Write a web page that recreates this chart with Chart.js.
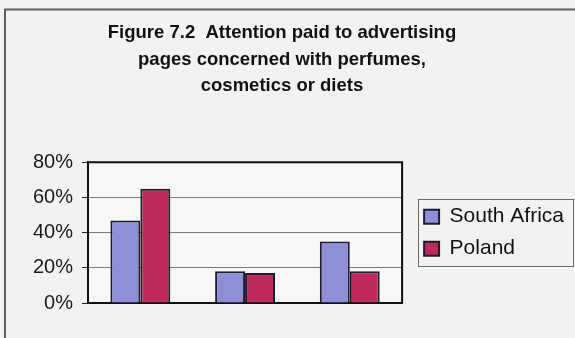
<!DOCTYPE html>
<html>
<head>
<meta charset="utf-8">
<script src="https://cdn.jsdelivr.net/npm/chart.js@4"></script>
<style>
  html, body { margin: 0; padding: 0; background: #f2f2f0; }
  canvas { display: block; }
</style>
</head>
<body>
<canvas id="attentionChart" width="575" height="338"></canvas>
<script>
// three unlabelled groups, two countries
const categories = ['', '', ''];
const southAfrica = [47, 18, 35];
const poland = [65, 17, 18];
const yTicks = [0, 20, 40, 60, 80];
const titleLines = [
  'Figure 7.2  Attention paid to advertising',
  'pages concerned with perfumes,',
  'cosmetics or diets'
];

const FONT = "'Liberation Sans', Arial, sans-serif";

// page background, outer frame, plot border and legend box
const framePlugin = {
  id: 'framePlugin',
  beforeDraw(chart) {
    const { ctx, chartArea: a } = chart;
    ctx.save();
    ctx.fillStyle = '#f2f2f0';
    ctx.fillRect(0, 0, chart.width, chart.height);
    ctx.strokeStyle = '#5c5c5c';
    ctx.lineWidth = 2;
    ctx.strokeRect(5, 9.5, chart.width + 20, chart.height + 20);
    ctx.fillStyle = '#f7f7f5';
    ctx.fillRect(a.left, a.top, a.right - a.left, a.bottom - a.top);
    ctx.restore();
  },
  afterDraw(chart) {
    const { ctx, chartArea: a, legend } = chart;
    ctx.save();
    ctx.strokeStyle = '#111';
    ctx.lineWidth = 2;
    ctx.beginPath();
    ctx.moveTo(a.left, a.top);
    ctx.lineTo(a.right, a.top);
    ctx.lineTo(a.right, a.bottom);
    ctx.stroke();

    const hb = legend.legendHitBoxes;
    if (hb && hb.length) {
      const last = hb[hb.length - 1];
      const left = hb[0].left - 6;
      const top = hb[0].top - 7;
      const right = Math.min(chart.width - 1.5, Math.max(...hb.map(h => h.left + h.width)) + 9);
      const bottom = last.top + last.height + 7;
      ctx.strokeStyle = '#6a6a6a';
      ctx.lineWidth = 1;
      ctx.strokeRect(Math.round(left) + 0.5, Math.round(top) + 0.5,
        Math.round(right - left), Math.round(bottom - top));
    }
    ctx.restore();
  }
};

const ctx = document.getElementById('attentionChart').getContext('2d');
new Chart(ctx, {
  type: 'bar',
  data: {
    labels: categories,
    datasets: [{
      label: 'South Africa',
      data: southAfrica,
      yAxisID: 'y',
      backgroundColor: '#8e8fd8',
      borderColor: '#1c1c2c',
      borderWidth: 2
    }, {
      label: 'Poland',
      data: poland,
      yAxisID: 'y',
      backgroundColor: '#bf2a5c',
      borderColor: '#1c1c2c',
      borderWidth: 2
    }]
  },
  options: {
    responsive: false,
    animation: false,
    devicePixelRatio: 1,
    layout: { padding: { left: -10, right: 1, top: 0, bottom: 0 } },
    datasets: {
      bar: { categoryPercentage: 0.572, barPercentage: 1 }
    },
    scales: {
      x: {
        ticks: { display: false },
        grid: { display: false },
        border: { display: true, color: '#111', width: 2 },
        afterFit(scale) { scale.height = 35; }
      },
      y: {
        min: 0,
        max: 80,
        afterBuildTicks(scale) { scale.ticks = yTicks.map(v => ({ value: v })); },
        ticks: {
          padding: 9,
          color: '#1a1a1a',
          font: { family: FONT, size: 20 },
          callback: v => v + '%'
        },
        grid: { color: '#7a7a7a', lineWidth: 1, tickColor: '#222', tickLength: 6 },
        border: { display: true, color: '#111', width: 2 },
        afterFit(scale) { scale.width = 98; }
      },
      // empty strip between the plot and the legend
      gap: {
        type: 'linear',
        position: 'right',
        ticks: { display: false },
        grid: { display: false },
        border: { display: false },
        afterFit(scale) { scale.width = 11; }
      }
    },
    plugins: {
      title: {
        display: true,
        text: titleLines,
        color: '#111',
        font: { family: FONT, size: 18.5, weight: 'bold', lineHeight: 1.43 },
        padding: { top: 20, bottom: 63 }
      },
      legend: {
        position: 'right',
        fullSize: false,
        maxWidth: 200,
        labels: {
          boxWidth: 15,
          boxHeight: 14,
          padding: 11,
          color: '#111',
          font: { family: FONT, size: 21 }
        }
      },
      tooltip: { enabled: false }
    }
  },
  plugins: [framePlugin]
});
</script>
</body>
</html>
